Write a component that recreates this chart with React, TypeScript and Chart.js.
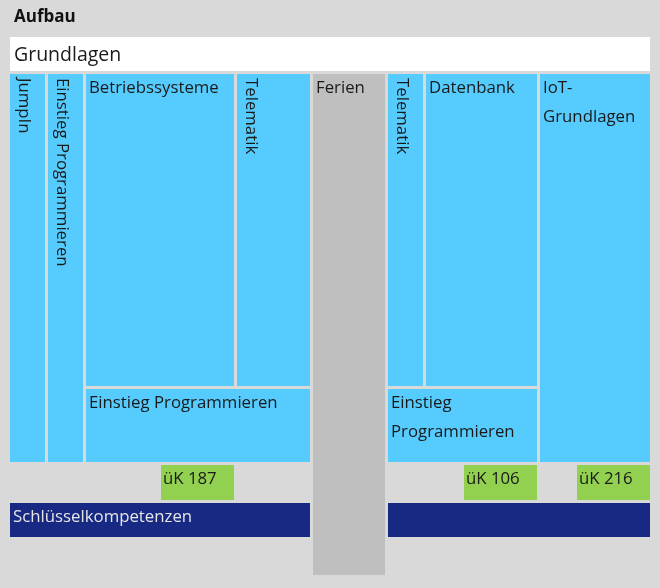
import React, { useEffect, useRef } from "react";
import { Chart, registerables } from "chart.js";

Chart.register(...registerables);

// ---- data (x in weeks, y in lesson-block rows, top = 0) ----
const TITLE = "Aufbau";
const labels = [
  "Grundlagen",
  "JumpIn",
  "Einstieg Programmieren",
  "Betriebssysteme",
  "Telematik",
  "Ferien",
  "Telematik",
  "Datenbank",
  "IoT-\nGrundlagen",
  "Einstieg Programmieren",
  "Einstieg\nProgrammieren",
  "üK 187",
  "üK 106",
  "üK 216",
  "Schlüsselkompetenzen",
  "",
];
const weekStart = [0, 0, 1, 2, 6, 8, 10, 11, 14, 2, 10, 4, 12, 15, 0, 10];
const weekEnd = [17, 1, 2, 6, 8, 10, 11, 14, 17, 8, 14, 6, 14, 17, 8, 17];
const rowStart = [0, 0.98, 0.98, 0.98, 0.98, 0.98, 0.98, 0.98, 0.98, 9.3, 9.3, 11.31, 11.31, 11.31, 12.32, 12.32];
const rowEnd = [0.98, 11.31, 11.31, 9.3, 9.3, 14.3, 9.3, 9.3, 11.31, 11.31, 11.31, 12.32, 12.32, 12.32, 13.3, 13.3];
const kinds = [
  "base", "module", "module", "module", "module", "holiday", "module", "module",
  "module", "module", "module", "uek", "uek", "uek", "soft", "soft",
];
const vertical = [
  false, true, true, false, true, false, true, false,
  false, false, false, false, false, false, false, false,
];

// ---- styles ----
const BG = "#d9d9d9";
const FILL: Record<string, string> = {
  base: "#ffffff",
  module: "#55cbfe",
  holiday: "#bfbfbf",
  uek: "#92d050",
  soft: "#172983",
};
const TEXT: Record<string, string> = {
  base: "#1a1a1a",
  module: "#1a1a1a",
  holiday: "#1a1a1a",
  uek: "#1a1a1a",
  soft: "#e6e6e6",
};
const FONT = "'Open Sans', 'Noto Sans', sans-serif";
const GAP = 3;

const boxesPlugin = {
  id: "boxes",
  beforeDraw(chart: any) {
    const { ctx, width, height } = chart;
    ctx.save();
    ctx.fillStyle = BG;
    ctx.fillRect(0, 0, width, height);
    ctx.restore();
  },
  afterDatasetsDraw(chart: any) {
    const { ctx } = chart;
    const xs = chart.scales.x;
    const ys = chart.scales.y;
    ctx.save();
    labels.forEach((lab, i) => {
      const l = Math.round(xs.getPixelForValue(weekStart[i]));
      const r = Math.round(xs.getPixelForValue(weekEnd[i])) - GAP;
      const t = Math.round(ys.getPixelForValue(rowStart[i]));
      const b = Math.round(ys.getPixelForValue(rowEnd[i])) - GAP;
      const kind = kinds[i];
      ctx.fillStyle = FILL[kind];
      ctx.fillRect(l, t, r - l, b - t);
      if (!lab) return;
      ctx.fillStyle = TEXT[kind];
      ctx.textAlign = "left";
      ctx.textBaseline = "alphabetic";
      if (kind === "base") {
        ctx.font = `19.5px ${FONT}`;
        ctx.fillText(lab, l + 4, t + 24);
        return;
      }
      ctx.font = `16.8px ${FONT}`;
      if (vertical[i]) {
        ctx.save();
        ctx.translate(l + 9, t + 4);
        ctx.rotate(Math.PI / 2);
        ctx.fillText(lab, 0, 0);
        ctx.restore();
        return;
      }
      const lines = lab.split("\n");
      const dx = kind === "uek" ? 2 : 3;
      lines.forEach((line, k) => {
        ctx.fillText(line, l + dx, t + 19 + k * 29);
      });
    });
    ctx.fillStyle = "#111111";
    ctx.font = `bold 17px ${FONT}`;
    ctx.textAlign = "left";
    ctx.textBaseline = "alphabetic";
    ctx.fillText(TITLE, 14, 22);
    ctx.restore();
  },
};

export default function App() {
  const ref = useRef<HTMLCanvasElement | null>(null);
  useEffect(() => {
    if (!ref.current) return;
    const chart = new Chart(ref.current, {
      type: "scatter",
      data: { datasets: [{ data: [], pointRadius: 0 }] },
      options: {
        animation: false,
        responsive: true,
        maintainAspectRatio: false,
        layout: { padding: { left: 10, right: 7, top: 37, bottom: 10 } },
        plugins: { legend: { display: false }, tooltip: { enabled: false }, title: { display: false } },
        scales: {
          x: { type: "linear", min: 0, max: 17, display: false },
          y: { type: "linear", min: 0, max: 14.3, reverse: true, display: false },
        },
      },
      plugins: [boxesPlugin],
    });
    return () => chart.destroy();
  }, []);
  return (
    <div
      style={{
        position: "fixed",
        left: 0,
        top: 0,
        width: 660,
        height: 588,
        background: BG,
      }}
    >
      <canvas ref={ref} />
    </div>
  );
}
